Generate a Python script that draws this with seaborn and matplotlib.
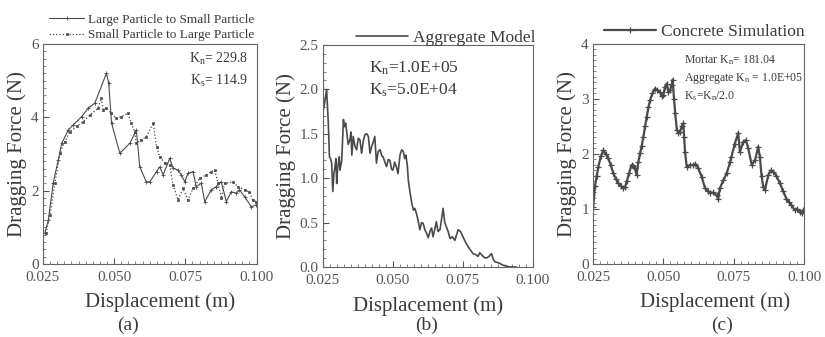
import pandas as pd
import matplotlib.pyplot as plt
import seaborn as sns
from matplotlib.ticker import AutoMinorLocator, FormatStrFormatter, MultipleLocator

# --- datos ---
# (a) Large Particle to Small Particle
a_large_x = [0.0257, 0.0269, 0.0286, 0.0304, 0.0316, 0.0339, 0.0356, 0.0386, 0.0409,
             0.0432, 0.0473, 0.0481, 0.0491, 0.0520, 0.0555, 0.0578, 0.0590, 0.0613,
             0.0625, 0.0649, 0.0660, 0.0672, 0.0695, 0.0707, 0.0724, 0.0736, 0.0748,
             0.0759, 0.0777, 0.0788, 0.0806, 0.0818, 0.0841, 0.0859, 0.0876, 0.0894,
             0.0911, 0.0929, 0.0940, 0.0958, 0.0981, 0.0999]
a_large_y = [0.85, 1.20, 2.20, 2.84, 3.29, 3.65, 3.79, 4.02, 4.25,
             4.38, 5.20, 4.93, 3.84, 3.02, 3.29, 3.65, 2.65, 2.24,
             2.24, 2.52, 2.65, 2.43, 2.88, 2.61, 2.56, 2.43, 2.24,
             2.47, 2.52, 2.11, 2.20, 1.70, 2.02, 2.11, 2.24, 1.70,
             1.97, 1.93, 2.02, 1.84, 1.56, 1.61]
# (a) Small Particle to Large Particle
a_small_x = [0.0261, 0.0275, 0.0292, 0.0310, 0.0327, 0.0345, 0.0368, 0.0391, 0.0415,
             0.0444, 0.0455, 0.0461, 0.0473, 0.0490, 0.0507, 0.0525, 0.0549, 0.0560,
             0.0572, 0.0578, 0.0595, 0.0613, 0.0637, 0.0649, 0.0660, 0.0678, 0.0695,
             0.0707, 0.0724, 0.0742, 0.0759, 0.0777, 0.0800, 0.0824, 0.0841, 0.0853,
             0.0865, 0.0876, 0.0888, 0.0917, 0.0934, 0.0958, 0.0975, 0.0986, 0.0999]
a_small_y = [0.84, 1.34, 2.20, 3.02, 3.34, 3.61, 3.75, 3.88, 4.06,
             4.25, 4.52, 4.20, 4.25, 4.11, 3.97, 4.02, 4.11, 3.84,
             3.61, 3.29, 3.38, 3.47, 3.84, 3.20, 2.93, 2.75, 2.70,
             2.15, 1.75, 2.06, 1.75, 2.06, 2.34, 2.43, 2.52, 2.56,
             2.20, 1.79, 2.20, 2.24, 2.11, 2.02, 1.97, 1.75, 1.70]

# (b) Aggregate Model
b_x = [0.0250, 0.0254, 0.0263, 0.0269, 0.0273, 0.0277, 0.0281, 0.0285, 0.0289, 0.0293,
       0.0296, 0.0299, 0.0302, 0.0305, 0.0308, 0.0311, 0.0314, 0.0317, 0.0323, 0.0327,
       0.0331, 0.0335, 0.0340, 0.0346, 0.0350, 0.0353, 0.0358, 0.0364, 0.0370, 0.0376,
       0.0382, 0.0388, 0.0394, 0.0400, 0.0406, 0.0412, 0.0418, 0.0424, 0.0429, 0.0435,
       0.0441, 0.0447, 0.0454, 0.0460, 0.0465, 0.0471, 0.0477, 0.0483, 0.0489, 0.0495,
       0.0500, 0.0506, 0.0512, 0.0518, 0.0525, 0.0531, 0.0537, 0.0542, 0.0546, 0.0551,
       0.0555, 0.0560, 0.0567, 0.0573, 0.0578, 0.0584, 0.0590, 0.0596, 0.0602, 0.0608,
       0.0614, 0.0620, 0.0626, 0.0632, 0.0638, 0.0643, 0.0649, 0.0655, 0.0661, 0.0668,
       0.0674, 0.0679, 0.0685, 0.0691, 0.0697, 0.0704, 0.0712, 0.0721, 0.0727, 0.0733,
       0.0741, 0.0750, 0.0759, 0.0768, 0.0777, 0.0786, 0.0795, 0.0804, 0.0810, 0.0816,
       0.0825, 0.0834, 0.0843, 0.0852, 0.0858, 0.0864, 0.0873, 0.0882, 0.0893, 0.0905,
       0.0917, 0.0929, 0.0940]
b_y = [1.75, 1.81, 2.00, 1.62, 1.24, 1.22, 1.17, 0.85, 1.05, 1.13,
       1.22, 0.94, 1.10, 1.17, 1.24, 1.09, 1.15, 1.20, 1.66, 1.58,
       1.62, 1.51, 1.38, 1.43, 1.52, 1.26, 1.47, 1.36, 1.32, 1.45,
       1.43, 1.28, 1.42, 1.49, 1.50, 1.47, 1.28, 1.36, 1.40, 1.47,
       1.17, 1.30, 1.32, 1.25, 1.24, 1.18, 1.13, 1.21, 1.20, 1.10,
       1.09, 1.18, 1.13, 1.05, 1.26, 1.32, 1.30, 1.22, 1.26, 1.15,
       0.97, 0.86, 0.72, 0.64, 0.66, 0.60, 0.52, 0.42, 0.50, 0.49,
       0.42, 0.38, 0.33, 0.40, 0.44, 0.34, 0.42, 0.51, 0.40, 0.42,
       0.55, 0.66, 0.50, 0.45, 0.40, 0.32, 0.34, 0.30, 0.36, 0.42,
       0.40, 0.34, 0.28, 0.23, 0.19, 0.15, 0.14, 0.12, 0.16, 0.14,
       0.11, 0.10, 0.12, 0.15, 0.09, 0.06, 0.05, 0.04, 0.02, 0.01,
       0.00, 0.00, 0.00]

# (c) Concrete Simulation
c_x = [0.0251, 0.0257, 0.0263, 0.0269, 0.0278, 0.0287, 0.0295, 0.0304, 0.0313, 0.0322,
       0.0331, 0.0340, 0.0349, 0.0358, 0.0364, 0.0370, 0.0378, 0.0387, 0.0393, 0.0399,
       0.0405, 0.0411, 0.0417, 0.0423, 0.0429, 0.0435, 0.0441, 0.0447, 0.0453, 0.0461,
       0.0470, 0.0479, 0.0488, 0.0494, 0.0500, 0.0506, 0.0512, 0.0518, 0.0524, 0.0529,
       0.0533, 0.0538, 0.0542, 0.0548, 0.0553, 0.0559, 0.0565, 0.0571, 0.0574, 0.0577,
       0.0583, 0.0595, 0.0607, 0.0614, 0.0624, 0.0636, 0.0648, 0.0657, 0.0666, 0.0678,
       0.0689, 0.0695, 0.0701, 0.0713, 0.0725, 0.0737, 0.0742, 0.0754, 0.0766, 0.0772,
       0.0784, 0.0793, 0.0802, 0.0814, 0.0826, 0.0837, 0.0843, 0.0849, 0.0855, 0.0861,
       0.0873, 0.0882, 0.0890, 0.0902, 0.0914, 0.0926, 0.0937, 0.0946, 0.0955, 0.0967,
       0.0976, 0.0985, 0.0991, 0.0997]
c_y = [1.04, 1.41, 1.60, 1.77, 1.96, 2.07, 2.00, 1.92, 1.80, 1.65,
       1.55, 1.47, 1.42, 1.38, 1.40, 1.50, 1.65, 1.80, 1.78, 1.74,
       1.62, 1.85, 2.01, 2.15, 2.31, 2.50, 2.68, 2.85, 2.98, 3.10,
       3.19, 3.16, 3.13, 3.05, 3.07, 3.22, 3.28, 3.12, 3.16, 3.25,
       3.35, 3.00, 2.74, 2.44, 2.38, 2.40, 2.50, 2.56, 2.30, 2.04,
       1.77, 1.80, 1.80, 1.82, 1.74, 1.59, 1.38, 1.33, 1.29, 1.30,
       1.25, 1.19, 1.38, 1.52, 1.65, 1.85, 1.95, 2.19, 2.38, 2.04,
       2.22, 2.25, 2.10, 1.80, 1.89, 2.13, 1.95, 1.60, 1.40, 1.35,
       1.62, 1.70, 1.68, 1.60, 1.47, 1.32, 1.19, 1.13, 1.07, 0.98,
       1.00, 0.95, 0.92, 0.98]

df_a1 = pd.DataFrame({'x': a_large_x, 'y': a_large_y})
df_a2 = pd.DataFrame({'x': a_small_x, 'y': a_small_y})
df_b = pd.DataFrame({'x': b_x, 'y': b_y})
df_c = pd.DataFrame({'x': c_x, 'y': c_y})

# --- estilo ---
sns.set_style('ticks')
plt.rcParams['font.family'] = ['Liberation Serif', 'DejaVu Serif']
plt.rcParams['mathtext.fontset'] = 'custom'
plt.rcParams['mathtext.rm'] = 'Liberation Serif'
plt.rcParams['mathtext.it'] = 'Liberation Serif'
plt.rcParams['text.color'] = '#3a3a3a'
plt.rcParams['axes.labelcolor'] = '#3a3a3a'
plt.rcParams['xtick.color'] = '#555555'
plt.rcParams['ytick.color'] = '#555555'
plt.rcParams['axes.edgecolor'] = '#666666'

LINE = '#4a4a4a'

fig = plt.figure(figsize=(8.25, 3.37), dpi=100)
ax_a = fig.add_axes([0.052, 0.2166, 0.259, 0.653])
ax_b = fig.add_axes([0.3915, 0.2077, 0.2545, 0.659])
ax_c = fig.add_axes([0.7188, 0.2166, 0.2558, 0.653])

# Grafico (a)
sns.lineplot(x='x', y='y', data=df_a1, ax=ax_a, sort=False, estimator=None, color=LINE,
             lw=0.8, marker='+', markersize=3, mew=0.6, mec=LINE,
             label='Large Particle to Small Particle')
sns.lineplot(x='x', y='y', data=df_a2, ax=ax_a, sort=False, estimator=None, color=LINE,
             lw=0.9, ls=':', marker='s', markersize=2, mew=0.5, mec=LINE, mfc=LINE,
             label='Small Particle to Large Particle')
ax_a.set_ylim(0, 6)
ax_a.yaxis.set_major_locator(MultipleLocator(2))
ax_a.yaxis.set_minor_locator(AutoMinorLocator(10))
ax_a.yaxis.set_major_formatter(FormatStrFormatter('%d'))
ax_a.text(0.96, 0.93, 'K$_n$= 229.8', transform=ax_a.transAxes, ha='right', va='center', fontsize=10)
ax_a.text(0.96, 0.83, 'K$_s$= 114.9', transform=ax_a.transAxes, ha='right', va='center', fontsize=10)
ax_a.legend(loc='lower right', bbox_to_anchor=(1.0, 1.0), frameon=False, fontsize=9.5,
            handlelength=2.6, handletextpad=0.3, labelspacing=0.25, borderaxespad=0.1, borderpad=0.1)

# Grafico (b)
sns.lineplot(x='x', y='y', data=df_b, ax=ax_b, sort=False, estimator=None, color=LINE,
             lw=1.2, label='Aggregate Model')
ax_b.set_ylim(0, 2.5)
ax_b.yaxis.set_major_locator(MultipleLocator(0.5))
ax_b.yaxis.set_minor_locator(AutoMinorLocator(5))
ax_b.yaxis.set_major_formatter(FormatStrFormatter('%.1f'))
ax_b.text(0.22, 0.895, 'K$_n$=1.0E+05', transform=ax_b.transAxes, ha='left', va='center', fontsize=12.5)
ax_b.text(0.22, 0.795, 'K$_s$=5.0E+04', transform=ax_b.transAxes, ha='left', va='center', fontsize=12.5)
ax_b.legend(loc='lower right', bbox_to_anchor=(1.03, 0.98), frameon=False, fontsize=12.5,
            handlelength=3.0, handletextpad=0.3, borderaxespad=0.1, borderpad=0.1)

# Grafico (c)
sns.lineplot(x='x', y='y', data=df_c, ax=ax_c, sort=False, estimator=None, color=LINE,
             lw=1.6, marker='+', markersize=5, mew=0.9, mec=LINE,
             label='Concrete Simulation')
ax_c.set_ylim(0, 4)
ax_c.yaxis.set_major_locator(MultipleLocator(1))
ax_c.yaxis.set_minor_locator(AutoMinorLocator(10))
ax_c.yaxis.set_major_formatter(FormatStrFormatter('%d'))
ax_c.text(0.43, 0.925, 'Mortar K$_n$= 181.04', transform=ax_c.transAxes, ha='left', va='center', fontsize=8.5)
ax_c.text(0.43, 0.845, 'Aggregate K$_n$ = 1.0E+05', transform=ax_c.transAxes, ha='left', va='center', fontsize=8.5)
ax_c.text(0.43, 0.765, 'K$_s$=K$_n$/2.0', transform=ax_c.transAxes, ha='left', va='center', fontsize=8.5)
ax_c.legend(loc='lower right', bbox_to_anchor=(1.02, 1.0), frameon=False, fontsize=12.5,
            handlelength=3.0, handletextpad=0.3, borderaxespad=0.1, borderpad=0.1)

label_x = {'(a)': 0.55, '(b)': 0.5, '(c)': 0.58}
tag_x = {'(a)': 128 / 825, '(b)': 427 / 825, '(c)': 722 / 825}

for ax, tag in zip([ax_a, ax_b, ax_c], ['(a)', '(b)', '(c)']):
    ax.set_xlim(0.025, 0.100)
    ax.xaxis.set_major_locator(MultipleLocator(0.025))
    ax.xaxis.set_minor_locator(AutoMinorLocator(10))
    ax.xaxis.set_major_formatter(FormatStrFormatter('%.3f'))
    ax.tick_params(which='both', direction='in', top=False, right=False, labelsize=11)
    ax.tick_params(axis='x', pad=5)
    ax.tick_params(axis='y', pad=3)
    ax.tick_params(which='major', length=4, width=0.8)
    ax.tick_params(which='minor', length=2, width=0.5)
    for s in ax.spines.values():
        s.set_linewidth(0.8)
    ax.set_xlabel('Displacement (m)', fontsize=15)
    ax.xaxis.set_label_coords(label_x[tag], -0.13)
    ax.set_ylabel('Dragging Force (N)', fontsize=15, labelpad=3)
    fig.text(tag_x[tag], 0.035, tag, ha='center', va='center', fontsize=14)

plt.savefig('out.png', dpi=100)
